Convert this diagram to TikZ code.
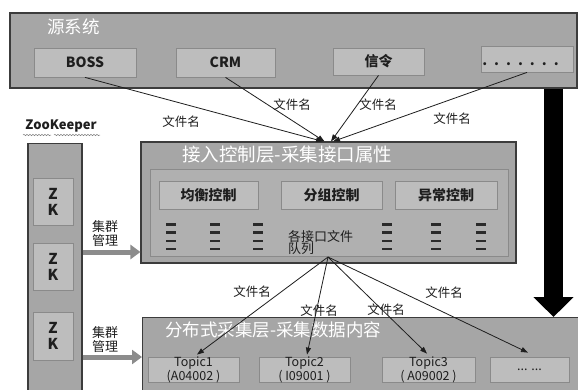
\documentclass[tikz,border=0pt]{standalone}
\usepackage{fontspec}
\setmainfont{Noto Sans CJK SC}
\usetikzlibrary{arrows.meta,decorations.pathmorphing,calc}

\definecolor{panel}{HTML}{A6A6A6}
\definecolor{panelline}{HTML}{3C3C3C}
\definecolor{cell}{HTML}{BDBDBD}
\definecolor{cellline}{HTML}{8A8A8A}
\definecolor{innerfill}{HTML}{B0B0B0}
\definecolor{ink}{HTML}{1E1E1E}
\definecolor{mgmt}{HTML}{8C8C8C}
\definecolor{queueink}{HTML}{2A2A2A}

\newcommand{\fs}[1]{\fontsize{#1}{#1}\selectfont}

\begin{document}
\begin{tikzpicture}[x=1pt,y=-1pt,
  panelbox/.style={draw=panelline, line width=1.1pt, fill=panel, rectangle, inner sep=0pt},
  innerbox/.style={draw=cellline, line width=0.8pt, fill=innerfill, rectangle, inner sep=0pt},
  cellbox/.style={draw=cellline, line width=0.8pt, fill=cell, rectangle, inner sep=0pt},
  paneltitle/.style={text=white, font=\fs{17.5}, inner sep=0pt},
  celltext/.style={text=ink, font=\fs{14}\bfseries},
  ctrltext/.style={text=ink, font=\fs{14}\bfseries},
  topictext/.style={text=ink, font=\fs{12.5}, align=center, inner sep=0pt},
  lbl/.style={text=ink, font=\fs{12.5}, inner sep=0pt},
  feed/.style={draw=ink, line width=0.8pt, -{Triangle[length=7pt,width=5pt]}},
  mgmtarrow/.style={draw=mgmt, line width=5pt, -{Triangle[length=10pt,width=14pt]}},
  bigarrow/.style={draw=black, line width=19pt, -{Triangle[length=20pt,width=39pt]}},
  queue/.style={draw=queueink, line width=2.4pt},
  squiggle/.style={draw=gray, line width=0.5pt, decorate,
    decoration={snake, amplitude=0.7pt, segment length=3pt}}
]
\clip (0,0) rectangle (578,389);
\fill[white] (0,0) rectangle (578,389);

% ---------- source systems ----------
\node[panelbox, minimum width=567pt, minimum height=75pt] (src) at (293.5,50.5) {};
\node[paneltitle, anchor=west] (srct) at (47,27) {源系统};
\node[cellbox, minimum width=102pt, minimum height=29pt] (boss) at (85,62.5) {};
\node[celltext] at (boss.center) {BOSS};
\node[cellbox, minimum width=99pt, minimum height=29pt] (crm) at (225.5,62.5) {};
\node[celltext] at (crm.center) {CRM};
\node[cellbox, minimum width=91pt, minimum height=27pt] (sig) at (378.5,61.5) {};
\node[celltext] at (sig.center) {信令};
\node[cellbox, minimum width=92pt, minimum height=26pt] (more) at (527,59) {};
\node[celltext, anchor=base] at (520.5,65) {.\hskip7pt.\hskip7pt.\hskip7pt.\hskip7pt.\hskip7pt.\hskip7pt.};

% ---------- access control layer ----------
\node[panelbox, minimum width=375pt, minimum height=121pt] (acc) at (328.5,202.5) {};
\node[paneltitle, anchor=west, font=\fs{18.5}] (acct) at (182,155) {接入控制层-采集接口属性};
\node[innerbox, minimum width=358pt, minimum height=87pt] (accin) at (329,212.5) {};
\node[cellbox, minimum width=99pt, minimum height=28pt] (bal) at (208.5,195) {};
\node[ctrltext] at (bal.center) {均衡控制};
\node[cellbox, minimum width=101pt, minimum height=28pt] (grp) at (331.5,195) {};
\node[ctrltext] at (grp.center) {分组控制};
\node[cellbox, minimum width=102pt, minimum height=28pt] (err) at (446,195) {};
\node[ctrltext] at (err.center) {异常控制};

% interface file queues
\foreach \qx in {171,215,258,387,436,481}{
  \foreach \qy in {224.5,232.5,241,249}{
    \draw[queue] (\qx-5,\qy) -- (\qx+5,\qy);
  }
}
\node[lbl, font=\fs{13}, align=left, anchor=north west] (qtext) at (288,230) {各接口文件\\[-1pt]队列};
\coordinate (q) at (328,257);

% ---------- distributed collection layer ----------
\node[panelbox, minimum width=450pt, minimum height=90pt, anchor=north west] (dist) at (142,317) {};
\node[paneltitle, anchor=west] (distt) at (165,330) {分布式采集层-采集数据内容};
\node[cellbox, minimum width=91pt, minimum height=25pt] (t1) at (193.5,369.5) {};
\node[topictext] at (t1.center) {Topic1\\(A04002 )};
\node[cellbox, minimum width=91pt, minimum height=25pt] (t2) at (304.5,369.5) {};
\node[topictext] at (t2.center) {Topic2\\( I09001 )};
\node[cellbox, minimum width=93pt, minimum height=25pt] (t3) at (428.5,369.5) {};
\node[topictext] at (t3.center) {Topic3\\( A09002 )};
\node[cellbox, minimum width=79pt, minimum height=25pt] (t4) at (529.5,369.5) {};
\node[topictext] at (t4.center) {... ...};

% ---------- ZooKeeper ----------
\node[font=\fs{13}\bfseries, text=ink, inner sep=0pt] (zkt) at (61,126) {ZooKeeper};
\draw[squiggle] (23,135) -- (51,135);
\draw[squiggle] (54,135) -- (100,135);
\node[panelbox, minimum width=54pt, minimum height=260pt, anchor=north] (zk) at (55,143) {};
\node[cellbox, minimum width=40pt, minimum height=47pt] (zk1) at (53,201.5) {};
\node[cellbox, minimum width=40pt, minimum height=47pt] (zk2) at (53,266.5) {};
\node[cellbox, minimum width=40pt, minimum height=48pt] (zk3) at (53,336) {};
\foreach \z in {zk1,zk2,zk3}{
  \node[text=ink, font=\fs{15}\bfseries, align=center, inner sep=0pt] at (\z.center) {Z\\[1pt]K};
}

% cluster management arrows
\draw[mgmtarrow] (zk.east |- 0,252) -- (acc.west |- 0,252);
\node[lbl, font=\fs{13}, align=center] (m1) at (105,233.5) {集群\\[1pt]管理};
\draw[mgmtarrow] (zk.east |- 0,357) -- (dist.west |- 0,357);
\node[lbl, font=\fs{13}, align=center] (m2) at (105,339.5) {集群\\[1pt]管理};

% file name feeds from the source systems
\draw[feed] (boss.south) -- ([xshift=-5.5pt]acc.north);
\draw[feed] (crm.south) -- ([xshift=-4pt]acc.north);
\draw[feed] (sig.south) -- ([xshift=2.5pt]acc.north);
\draw[feed] (more.south) -- ([xshift=4.5pt]acc.north);
\node[lbl] at (181,122) {文件名};
\node[lbl] at (292,105) {文件名};
\node[lbl] at (378,105) {文件名};
\node[lbl] at (452,119) {文件名};

% file name dispatch to topics
\draw[feed] (q) -- ([xshift=3.5pt,yshift=2pt]t1.north);
\draw[feed] (q) -- ([xshift=2.5pt,yshift=2pt]t2.north);
\draw[feed] (q) -- ([xshift=-1.5pt,yshift=3pt]t3.north);
\draw[feed] (q) -- ([xshift=-1.5pt,yshift=4pt]t4.north);
\node[lbl] at (252,292) {文件名};
\node[lbl] at (319,311) {文件名};
\node[lbl] at (386,310) {文件名};
\node[lbl] at (444,293) {文件名};

% data flow from sources down to the collection layer
\coordinate (bar) at (553.5,0);
\draw[bigarrow] (src.south -| bar) -- (dist.north -| bar);
\end{tikzpicture}
\end{document}
